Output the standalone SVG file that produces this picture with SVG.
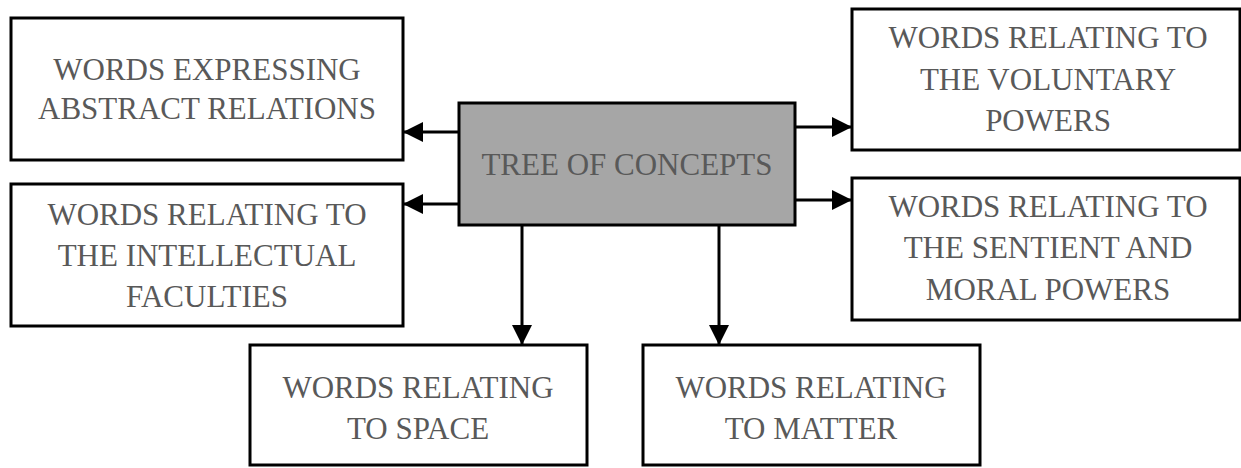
<svg xmlns="http://www.w3.org/2000/svg" width="1241" height="468" viewBox="0 0 1241 468">
<style>
.box{fill:#fff;stroke:#000;stroke-width:3}
.center{fill:#a6a6a6;stroke:#000;stroke-width:3}
text{font-family:'Liberation Serif','Times New Roman','DejaVu Serif',serif;font-size:31px;fill:#595959;text-anchor:middle}
.conn line{stroke:#000;stroke-width:3}
</style>
<defs>
<marker id="ah" viewBox="0 0 20 20" refX="20" refY="10" markerWidth="20" markerHeight="20" markerUnits="userSpaceOnUse" orient="auto">
<path d="M0,0 L20,10 L0,20 Z" fill="#000"/>
</marker>
</defs>
<rect width="1241" height="468" fill="#fff"/>
<g id="n-abstract"><rect class="box" x="11" y="18" width="392" height="142"/><text x="207" y="80" font-family="Liberation Serif, DejaVu Serif, serif">WORDS EXPRESSING</text><text x="207" y="119" font-family="Liberation Serif, DejaVu Serif, serif">ABSTRACT RELATIONS</text></g>
<g id="n-intellectual"><rect class="box" x="11" y="184" width="392" height="142"/><text x="207" y="225">WORDS RELATING TO</text><text x="207" y="266">THE INTELLECTUAL</text><text x="207" y="307">FACULTIES</text></g>
<g id="n-center"><rect class="center" x="459" y="103" width="336" height="122"/><text x="627" y="175">TREE OF CONCEPTS</text></g>
<g id="n-voluntary"><rect class="box" x="852" y="9" width="388" height="141"/><text x="1048" y="48">WORDS RELATING TO</text><text x="1048" y="90">THE VOLUNTARY</text><text x="1048" y="131">POWERS</text></g>
<g id="n-sentient"><rect class="box" x="852" y="178" width="388" height="142"/><text x="1048" y="217">WORDS RELATING TO</text><text x="1048" y="258">THE SENTIENT AND</text><text x="1048" y="300">MORAL POWERS</text></g>
<g id="n-space"><rect class="box" x="250" y="345" width="337" height="120"/><text x="418" y="398">WORDS RELATING</text><text x="418" y="439">TO SPACE</text></g>
<g id="n-matter"><rect class="box" x="643" y="345" width="337" height="120"/><text x="811" y="398">WORDS RELATING</text><text x="811" y="439">TO MATTER</text></g>
<g id="connectors" class="conn">
<line x1="459" y1="132" x2="403" y2="132" marker-end="url(#ah)"/>
<line x1="459" y1="204" x2="403" y2="204" marker-end="url(#ah)"/>
<line x1="795" y1="127" x2="852" y2="127" marker-end="url(#ah)"/>
<line x1="795" y1="200" x2="852" y2="200" marker-end="url(#ah)"/>
<line x1="522" y1="225" x2="522" y2="345" marker-end="url(#ah)"/>
<line x1="719" y1="225" x2="719" y2="345" marker-end="url(#ah)"/>
</g>
</svg>
